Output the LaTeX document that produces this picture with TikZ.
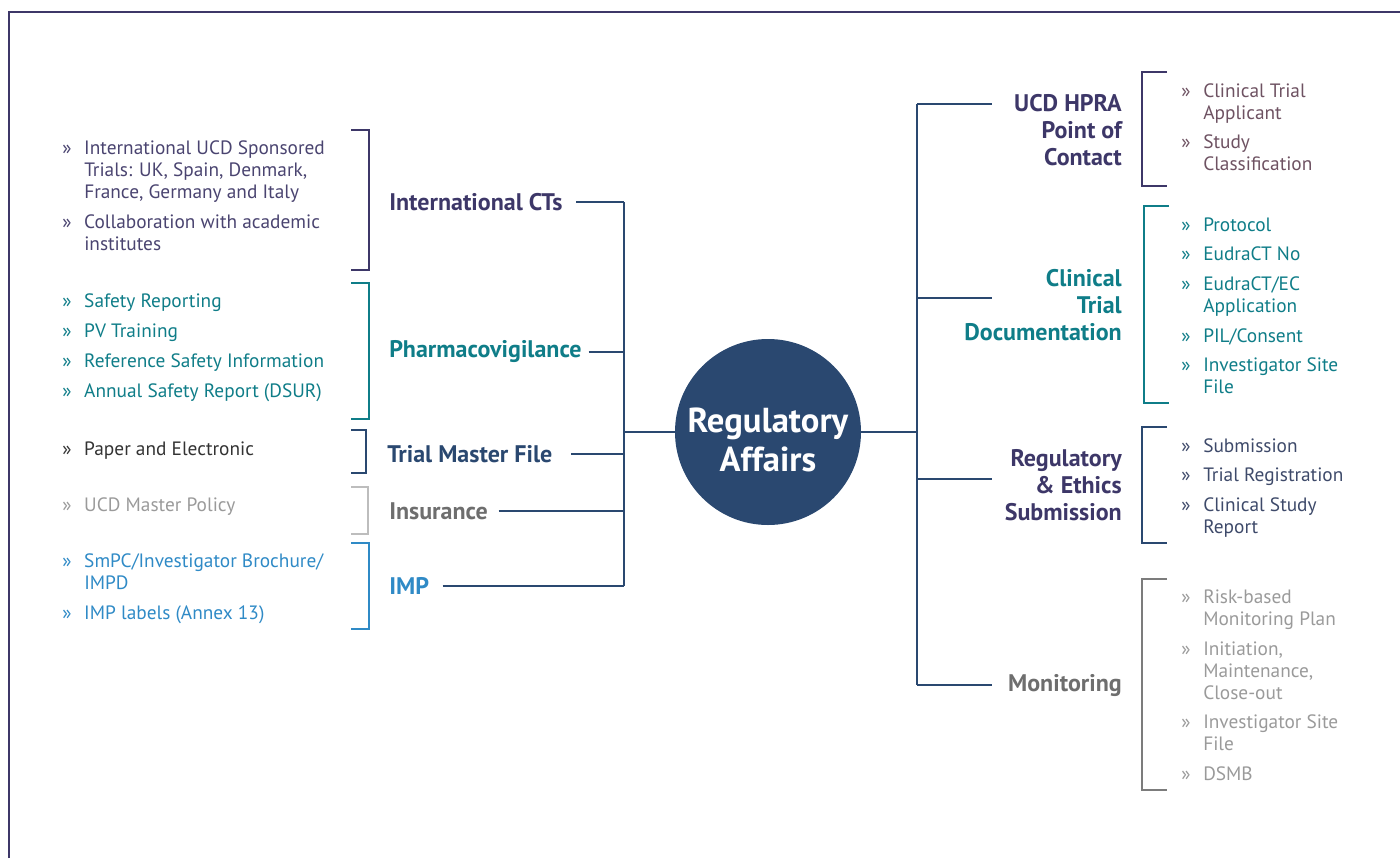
\documentclass[tikz,border=0pt]{standalone}
\usepackage{fontspec}
\setmainfont{PT Sans}
\usetikzlibrary{positioning}

\definecolor{raNavy}{HTML}{2A4870}
\definecolor{raPlum}{HTML}{3D3768}
\definecolor{raTeal}{HTML}{0F7D88}
\definecolor{raBlue}{HTML}{2F8AC6}
\definecolor{raGrey}{HTML}{6E6E6E}
\definecolor{raLight}{HTML}{BDBDBD}
\definecolor{raSoft}{HTML}{9A9A9A}
\definecolor{raMauve}{HTML}{6E5262}
\definecolor{raSlate}{HTML}{3E4A6A}
\definecolor{raInk}{HTML}{333333}
\definecolor{raLilac}{HTML}{4A4470}

\newcommand{\bl}{\makebox[16.5pt][l]{»}}
\newcommand{\ind}{\hspace*{16.5pt}}

\begin{document}
\begin{tikzpicture}[x=0.75pt, y=-0.75pt,
    link/.style={draw=raNavy, line width=1.9pt},
    brk/.style={line width=1.9pt},
    head/.style={font=\fontsize{18}{20.25}\selectfont\bfseries, inner sep=0pt},
    lst/.style={font=\fontsize{14.5}{16.5}\selectfont, inner sep=0pt, align=left, anchor=north west}
]
\useasboundingbox (0,0) rectangle (1400,858);

% --- Frame ---
\draw[raPlum, line width=2.2pt] (9,858) -- (9,12) -- (1400,12);

% --- Centre ---
\node[circle, fill=raNavy, minimum size=139.5pt, inner sep=0pt] (ra) at (768,432) {};
\node[text=white, font=\fontsize{26}{29.5}\selectfont\bfseries, align=center] (raText) at (768,440) {Regulatory\\Affairs};

% --- Left trunk ---
\coordinate (lTop) at (624,202);
\coordinate (lMid) at (624,432);
\coordinate (lBot) at (624,586);
\draw[link] (lTop) -- (lBot);
\draw[link] (ra.west) -- (lMid);

% Left headings
\node[head, anchor=west, text=raPlum] (intl) at (389,202) {International CTs};
\node[head, anchor=west, text=raTeal] (pv) at (389,352) {Pharmacovigilance};
\node[head, anchor=west, text=raNavy] (tmf) at (387,454) {Trial Master File};
\node[head, anchor=west, text=raGrey] (ins) at (389,511) {Insurance};
\node[head, anchor=west, text=raBlue] (imp) at (389,586) {IMP};

\draw[link] ([xshift=10pt]intl.east) -- (intl.east -| lTop);
\draw[link] ([xshift=5pt]pv.east) -- (pv.east -| lTop);
\draw[link] ([xshift=14pt]tmf.east) -- (tmf.east -| lTop);
\draw[link] ([xshift=8pt]ins.east) -- (ins.east -| lTop);
\draw[link] ([xshift=10pt]imp.east) -- (imp.east -| lTop);

% Left brackets
\draw[brk, raPlum] (351,130) -| (369,270) -- (351,270);
\draw[brk, raTeal] (351,283) -| (369,419) -- (351,419);
\draw[brk, raNavy] (351,430) -| (366,473) -- (351,473);
\draw[brk, raLight] (351,487) -| (368,534) -- (351,534);
\draw[brk, raBlue] (351,543) -| (369,629) -- (351,629);

% Left lists
\node[lst, text=raLilac] (intlList) at (62,140.5)
  {\bl International UCD Sponsored\\ \ind Trials: UK, Spain, Denmark,\\ \ind France, Germany and Italy\\[6pt]
   \bl Collaboration with academic\\ \ind institutes};
\node[lst, text=raTeal] (pvList) at (62,293.5)
  {\bl Safety Reporting\\[6pt] \bl PV Training\\[6pt] \bl Reference Safety Information\\[6pt] \bl Annual Safety Report (DSUR)};
\node[lst, text=raInk] (tmfList) at (62,441.5) {\bl Paper and Electronic};
\node[lst, text=raSoft] (insList) at (62,497.5) {\bl UCD Master Policy};
\node[lst, text=raBlue] (impList) at (62,553.5)
  {\bl SmPC/Investigator Brochure/\\ \ind IMPD\\[6pt] \bl IMP labels (Annex 13)};

% --- Right trunk ---
\coordinate (rTop) at (917,104);
\coordinate (rMid) at (917,432);
\coordinate (rBot) at (917,685);
\draw[link] (rTop) -- (rBot);
\draw[link] (ra.east) -- (rMid);

\coordinate (hpraEnd) at (992,104);
\coordinate (ctdEnd) at (992,298);
\coordinate (regEnd) at (992,479);
\coordinate (monEnd) at (992,685);
\draw[link] (rTop) -- (hpraEnd);
\draw[link] (ctdEnd -| rTop) -- (ctdEnd);
\draw[link] (regEnd -| rTop) -- (regEnd);
\draw[link] (rBot) -- (monEnd);

% Right headings
\node[head, anchor=north east, align=right, text=raPlum] (hpra) at (1122,94.5) {UCD HPRA\\Point of\\Contact};
\node[head, anchor=north east, align=right, text=raTeal] (ctd) at (1122,269.5) {Clinical\\Trial\\Documentation};
\node[head, anchor=north east, align=right, text=raPlum] (reg) at (1122,449.5) {Regulatory\\\& Ethics\\Submission};
\node[head, anchor=east, text=raGrey] (mon) at (1122,685) {Monitoring};

% Right brackets
\draw[brk, raPlum] (1167,72) -| (1142,186) -- (1167,186);
\draw[brk, raTeal] (1169,206) -| (1144,403) -- (1169,403);
\draw[brk, raNavy] (1167,427) -| (1142,543) -- (1167,543);
\draw[brk, raGrey!90] (1167,579) -| (1142,790) -- (1167,790);

% Right lists
\node[lst, text=raMauve] (hpraList) at (1181,83.5)
  {\bl Clinical Trial\\ \ind Applicant\\[5pt] \bl Study\\ \ind Classification};
\node[lst, text=raTeal] (ctdList) at (1181,217.5)
  {\bl Protocol\\[5.5pt] \bl EudraCT No\\[5.5pt] \bl EudraCT/EC\\ \ind Application\\[6pt]
   \bl PIL/Consent\\[5.5pt] \bl Investigator Site\\ \ind File};
\node[lst, text=raSlate] (regList) at (1181,438.5)
  {\bl Submission\\[5.5pt] \bl Trial Registration\\[6pt] \bl Clinical Study\\ \ind Report};
\node[lst, text=raSoft] (monList) at (1181,589.5)
  {\bl Risk-based\\ \ind Monitoring Plan\\[6pt] \bl Initiation,\\ \ind Maintenance,\\ \ind Close-out\\[5.5pt]
   \bl Investigator Site\\ \ind File\\[6pt] \bl DSMB};

\end{tikzpicture}
\end{document}
